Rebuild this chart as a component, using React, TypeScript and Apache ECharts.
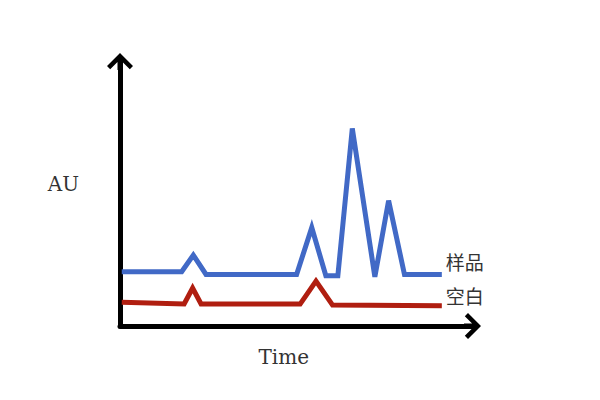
import React, { useEffect, useRef } from "react";
import * as echarts from "echarts";

// Sample (样品) trace: time, AU
const sampleTime = [0.5, 17.5, 20.8, 24.4, 50.1, 54.4, 58.4, 61.8, 65.9, 72.3, 76.2, 80.7, 91.3];
const sampleAU = [20.5, 20.5, 26.8, 19.5, 19.5, 37.2, 19.0, 19.0, 74.7, 18.6, 47.4, 19.5, 19.5];
// Blank (空白) trace
const blankTime = [0.5, 18.2, 20.6, 23.0, 51.1, 55.6, 60.3, 91.3];
const blankAU = [9.0, 8.3, 14.3, 8.3, 8.3, 17.0, 7.9, 7.7];

const seriesNames = ["样品", "空白"];
const xAxisName = "Time";
const yAxisName = "AU";

// chevron arrow with stem, pointing up
const arrowPath =
  "path://M13,0 L26,13 L22.8,16.2 L15.5,8.9 L15.5,17 L10.5,17 L10.5,8.9 L3.2,16.2 L0,13 Z";

export default function App() {
  const ref = useRef<HTMLDivElement>(null);
  useEffect(() => {
    document.body.style.margin = "0";
    if (!ref.current) return;
    const chart = echarts.init(ref.current, null, { renderer: "svg" });
    const zip = (xs: number[], ys: number[]) => xs.map((x, i) => [x, ys[i]]);
    const axisLine = {
      show: true,
      symbol: ["none", arrowPath],
      symbolSize: [26, 17],
      lineStyle: { color: "#000", width: 5 },
    };
    const labelFont = "'Noto Sans CJK SC', sans-serif";
    chart.setOption({
      animation: false,
      backgroundColor: "#fff",
      grid: { left: 120, right: 127.5, top: 61.5, bottom: 74 },
      xAxis: {
        type: "value",
        min: 0,
        max: 100,
        name: xAxisName,
        nameLocation: "middle",
        nameGap: 21,
        nameTextStyle: {
          fontFamily: "DejaVu Serif",
          fontSize: 20,
          color: "#333",
          verticalAlign: "top",
          padding: [0, 25, 0, 0],
        },
        axisLine,
        axisTick: { show: false },
        axisLabel: { show: false },
        splitLine: { show: false },
      },
      yAxis: {
        type: "value",
        min: 0,
        max: 100,
        name: yAxisName,
        nameLocation: "middle",
        nameRotate: 0,
        nameGap: 41,
        nameTextStyle: {
          fontFamily: "DejaVu Serif",
          fontSize: 20,
          color: "#333",
          verticalAlign: "bottom",
        },
        axisLine,
        axisTick: { show: false },
        axisLabel: { show: false },
        splitLine: { show: false },
      },
      series: [
        {
          name: seriesNames[0],
          type: "line",
          data: zip(sampleTime, sampleAU),
          symbol: "none",
          lineStyle: { color: "#4169c6", width: 5, join: "miter" },
          itemStyle: { color: "#4169c6" },
          endLabel: {
            show: true,
            formatter: "{a}",
            fontFamily: labelFont,
            fontSize: 19,
            color: "#333",
            offset: [-4, -13],
          },
        },
        {
          name: seriesNames[1],
          type: "line",
          data: zip(blankTime, blankAU),
          symbol: "none",
          lineStyle: { color: "#b01e10", width: 5, join: "miter" },
          itemStyle: { color: "#b01e10" },
          endLabel: {
            show: true,
            formatter: "{a}",
            fontFamily: labelFont,
            fontSize: 19,
            color: "#333",
            offset: [-4, -10],
          },
        },
      ],
    });
    return () => chart.dispose();
  }, []);
  return <div ref={ref} style={{ width: 600, height: 400 }} />;
}
